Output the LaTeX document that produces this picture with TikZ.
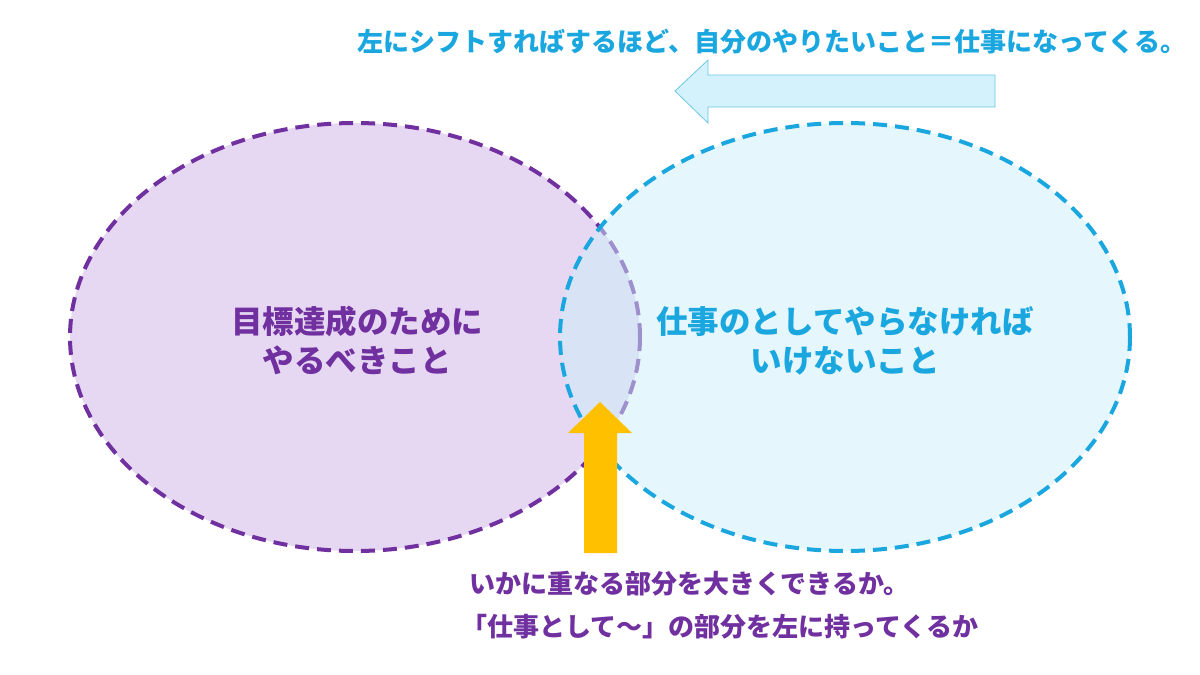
\documentclass[tikz,border=0pt]{standalone}
\usepackage{fontspec}
\newfontfamily\jpfont{Noto Sans CJK JP}
\definecolor{goalpurple}{HTML}{7030A0}
\definecolor{goalfill}{HTML}{E6D8F2}
\definecolor{workcyan}{HTML}{1AA7E0}
\definecolor{workfill}{HTML}{CCEFFB}
\definecolor{shiftfill}{HTML}{D3F2FC}
\definecolor{shiftline}{HTML}{6CC7E6}
\definecolor{liftyellow}{HTML}{FFC000}

\begin{document}
\begin{tikzpicture}[x=1pt,y=-1pt,
  venn/.style={line width=4pt,dash pattern=on 14pt off 8pt},
  bigtext/.style={font=\jpfont\bfseries\fontsize{31.5}{39}\selectfont,align=center},
  midtext/.style={font=\jpfont\bfseries\fontsize{26}{43}\selectfont}]
%
\fill[white] (0,0) rectangle (1200,675);
%
\filldraw[fill=goalfill,draw=goalpurple,venn] (355,337) ellipse [x radius=285,y radius=214];
\filldraw[fill=workfill,fill opacity=0.5,draw=workcyan,venn] (845,337) ellipse [x radius=285,y radius=214];
%
\filldraw[fill=shiftfill,draw=shiftline,line width=0.8pt] (995,75) -- (708,75) -- (708,60) -- (675,91)
  -- (708,123) -- (708,107) -- (995,107) -- cycle;
\fill[liftyellow] (584,553) -- (584,433) -- (568,433) -- (600,402) -- (632,433) -- (617,433)
  -- (617,553) -- cycle;
%
\node[midtext,text=workcyan] (shiftnote) at (772,42) {左にシフトすればするほど、自分のやりたいこと＝仕事になってくる。};
\node[bigtext,text=goalpurple] (goaltext) at (357,340) {目標達成のために\\やるべきこと};
\node[bigtext,text=workcyan] (worktext) at (845,341) {仕事のとしてやらなければ\\いけないこと};
\node[midtext,text=goalpurple,align=left,anchor=west] (overlapnote) at (466,605)
  {いかに重なる部分を大きくできるか。\\\hspace*{-8pt}「仕事として～」の部分を左に持ってくるか};
\end{tikzpicture}
\end{document}
